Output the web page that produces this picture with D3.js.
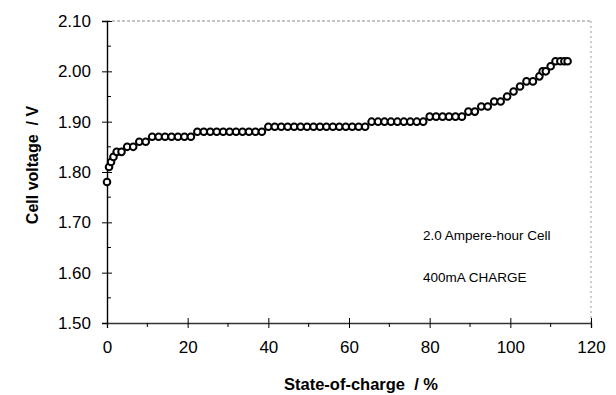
<!DOCTYPE html>
<html><head><meta charset="utf-8">
<script src="https://cdn.jsdelivr.net/npm/d3@7"></script>
<style>body{margin:0;background:#fff}svg{display:block}text{font-family:"Liberation Sans",Arial,sans-serif;white-space:pre}</style>
</head><body><svg id="c" width="616" height="395"></svg>
<script>
const soc = [0,0.5,1.0,1.6,2.4,3.6,5.0,6.5,8.0,9.6,11.2,12.8,14.4,16.0,17.6,19.2,20.8,22.4,24.0,25.6,27.2,28.8,30.4,32.0,33.6,35.2,36.8,38.4,40.0,41.6,43.2,44.8,46.4,48.0,49.6,51.2,52.8,54.4,56.0,57.6,59.2,60.8,62.4,64.0,65.6,67.2,68.8,70.4,72.0,73.6,75.2,76.8,78.4,80.0,81.6,83.2,84.8,86.4,88.0,89.6,91.2,92.8,94.4,96.0,97.6,99.2,100.8,102.4,104.0,105.6,107.2,108.0,108.8,110.0,111.2,112.4,113.4,114.2];
const voltage = [1.78,1.81,1.82,1.83,1.84,1.84,1.85,1.85,1.86,1.86,1.87,1.87,1.87,1.87,1.87,1.87,1.87,1.88,1.88,1.88,1.88,1.88,1.88,1.88,1.88,1.88,1.88,1.88,1.89,1.89,1.89,1.89,1.89,1.89,1.89,1.89,1.89,1.89,1.89,1.89,1.89,1.89,1.89,1.89,1.90,1.90,1.90,1.90,1.90,1.90,1.90,1.90,1.90,1.91,1.91,1.91,1.91,1.91,1.91,1.92,1.92,1.93,1.93,1.94,1.94,1.95,1.96,1.97,1.98,1.98,1.99,2.00,2.00,2.01,2.02,2.02,2.02,2.02];
const xTicks = [0,20,40,60,80,100,120];
const yTicks = [1.50,1.60,1.70,1.80,1.90,2.00,2.10];
const notes = ["2.0 Ampere-hour Cell","400mA CHARGE"];

const svg = d3.select("#c");
const L=107,R=591,T=21,B=323;
const x = d3.scaleLinear().domain([0,120]).range([L,R]);
const y = d3.scaleLinear().domain([1.5,2.1]).range([B,T]);

svg.append("line").attr("x1",L).attr("x2",R).attr("y1",T).attr("y2",T).attr("stroke","#888").attr("stroke-width",1).attr("stroke-dasharray","3,2");
svg.append("line").attr("x1",R).attr("x2",R).attr("y1",T).attr("y2",B).attr("stroke","#999").attr("stroke-width",1).attr("stroke-dasharray","2,3");

const ya = svg.append("g").attr("transform",`translate(${L},0)`)
  .call(d3.axisLeft(y).tickValues(yTicks).tickFormat(d3.format(".2f")).tickSize(5).tickPadding(11));
ya.select(".domain").attr("stroke","#000").attr("stroke-width",1.4);
ya.selectAll(".tick line").attr("x2",5).attr("x1",-5).attr("stroke","#000");
ya.selectAll(".tick text").attr("font-size",17).attr("fill","#000");
const yMinor = yTicks.slice(0,-1).map(d=>d+0.05);
ya.selectAll(".mn").data(yMinor).enter().append("line").attr("x1",0).attr("x2",4).attr("y1",d=>y(d)).attr("y2",d=>y(d)).attr("stroke","#000");

const xa = svg.append("g").attr("transform",`translate(0,${B})`)
  .call(d3.axisBottom(x).tickValues(xTicks).tickSize(5).tickPadding(13));
xa.select(".domain").attr("stroke","#333").attr("stroke-width",1.4);
xa.selectAll(".tick line").attr("y1",-5).attr("y2",5).attr("stroke","#000");
xa.selectAll(".tick text").attr("font-size",17).attr("fill","#000");
const xMinor = xTicks.slice(0,-1).map(d=>d+10);
xa.selectAll(".mn").data(xMinor).enter().append("line").attr("x1",d=>x(d)).attr("x2",d=>x(d)).attr("y1",0).attr("y2",4).attr("stroke","#000");

svg.append("g").selectAll("circle").data(soc.map((s,i)=>[s,voltage[i]])).enter().append("circle")
  .attr("cx",d=>x(d[0])).attr("cy",d=>y(d[1])).attr("r",3.3)
  .attr("fill","#fff").attr("stroke","#000").attr("stroke-width",2);

svg.append("text").attr("x",361).attr("y",390).attr("text-anchor","middle").attr("font-size",16.5).attr("font-weight","bold").text("State-of-charge  / %");
svg.append("text").attr("transform","translate(38,165) rotate(-90)").attr("text-anchor","middle").attr("font-size",16).attr("font-weight","bold").text("Cell voltage  / V");

svg.selectAll(".note").data(notes).enter().append("text").attr("class","note")
  .attr("x",423).attr("y",(d,i)=>i?282:240).attr("font-size",13.5).text(d=>d);
</script></body></html>
